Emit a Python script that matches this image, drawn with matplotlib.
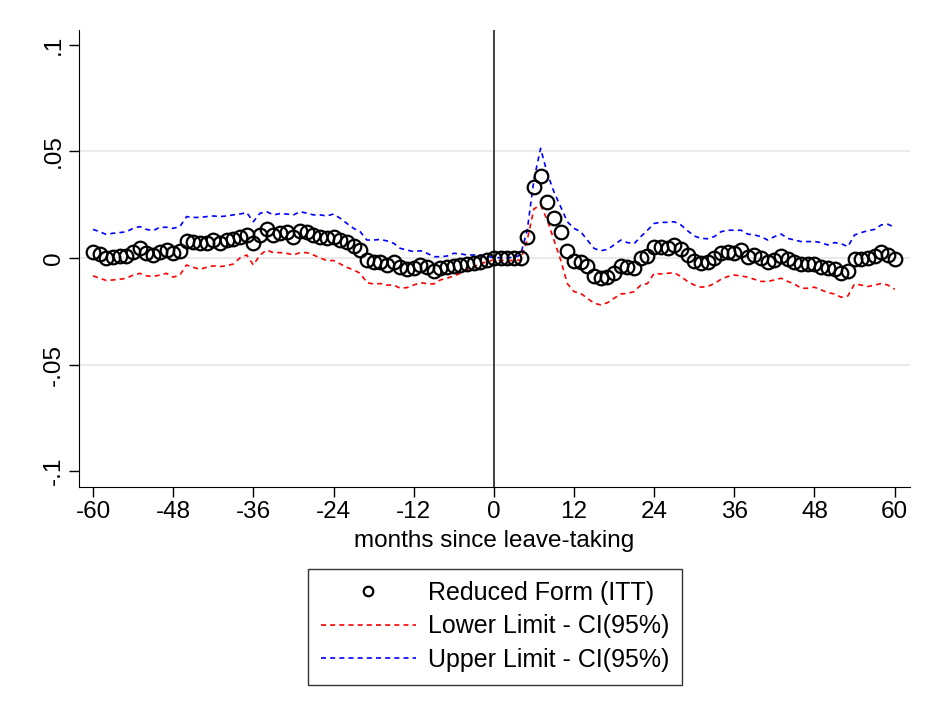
import numpy as np
import matplotlib
matplotlib.use("Agg")
import matplotlib.pyplot as plt

plt.rcParams['font.family'] = ['Liberation Sans', 'DejaVu Sans']
plt.rcParams['axes.unicode_minus'] = False

# months since leave-taking
months = list(range(-60, 61))

# reduced form (ITT) point estimates
itt = [
    0.0027, 0.0019, 0.0000, 0.0003, 0.0009, 0.0009, 0.0030, 0.0045, 0.0025, 0.0014,
    0.0030, 0.0037, 0.0022, 0.0034, 0.0081, 0.0077, 0.0069, 0.0072, 0.0084, 0.0072,
    0.0084, 0.0087, 0.0100, 0.0108, 0.0069, 0.0108, 0.0136, 0.0108, 0.0116, 0.0120,
    0.0100, 0.0128, 0.0123, 0.0108, 0.0100, 0.0092, 0.0100, 0.0084, 0.0077, 0.0056,
    0.0037, -0.0009, -0.0017, -0.0017, -0.0033, -0.0017, -0.0044, -0.0053, -0.0048, -0.0033,
    -0.0044, -0.0061, -0.0048, -0.0044, -0.0037, -0.0033, -0.0028, -0.0022, -0.0017, -0.0009,
    0.0000,
    -0.0002, 0.0001, 0.0000, -0.0002, 0.0100, 0.0334, 0.0384, 0.0264, 0.0189, 0.0122,
    0.0034, -0.0014, -0.0017, -0.0040, -0.0084, -0.0095, -0.0090, -0.0072, -0.0036, -0.0044,
    -0.0048, 0.0000, 0.0009, 0.0050, 0.0050, 0.0048, 0.0061, 0.0040, 0.0014, -0.0014,
    -0.0025, -0.0017, 0.0000, 0.0022, 0.0030, 0.0025, 0.0037, 0.0006, 0.0014, 0.0000,
    -0.0017, -0.0009, 0.0009, -0.0006, -0.0017, -0.0028, -0.0028, -0.0028, -0.0044, -0.0048,
    -0.0053, -0.0069, -0.0060, -0.0005, -0.0005, 0.0000, 0.0010, 0.0028, 0.0015, -0.0005,
]

# upper limit of 95% CI
upper = [
    0.0134, 0.0123, 0.0110, 0.0116, 0.0119, 0.0123, 0.0139, 0.0147, 0.0134, 0.0128,
    0.0144, 0.0144, 0.0139, 0.0147, 0.0194, 0.0190, 0.0190, 0.0194, 0.0197, 0.0194,
    0.0197, 0.0202, 0.0206, 0.0213, 0.0170, 0.0210, 0.0217, 0.0202, 0.0208, 0.0206,
    0.0202, 0.0217, 0.0210, 0.0202, 0.0202, 0.0197, 0.0206, 0.0186, 0.0162, 0.0139,
    0.0123, 0.0084, 0.0084, 0.0087, 0.0080, 0.0069, 0.0045, 0.0037, 0.0030, 0.0034,
    0.0022, 0.0006, 0.0006, 0.0009, 0.0022, 0.0019, 0.0014, 0.0014, 0.0014, 0.0009,
    0.0000,
    0.0002, 0.0002, 0.0002, 0.0014, 0.0130, 0.0366, 0.0514, 0.0397, 0.0310, 0.0240,
    0.0170, 0.0139, 0.0123, 0.0084, 0.0045, 0.0034, 0.0040, 0.0061, 0.0084, 0.0072,
    0.0067, 0.0100, 0.0130, 0.0162, 0.0167, 0.0167, 0.0170, 0.0155, 0.0128, 0.0103,
    0.0092, 0.0090, 0.0100, 0.0123, 0.0130, 0.0130, 0.0130, 0.0112, 0.0108, 0.0100,
    0.0084, 0.0100, 0.0112, 0.0092, 0.0084, 0.0077, 0.0077, 0.0077, 0.0072, 0.0061,
    0.0072, 0.0067, 0.0053, 0.0108, 0.0119, 0.0128, 0.0134, 0.0155, 0.0158, 0.0144,
]

# lower limit of 95% CI
lower = [
    -0.0084, -0.0095, -0.0106, -0.0103, -0.0100, -0.0095, -0.0080, -0.0072, -0.0084, -0.0087,
    -0.0080, -0.0072, -0.0090, -0.0080, -0.0033, -0.0044, -0.0053, -0.0044, -0.0037, -0.0040,
    -0.0037, -0.0028, 0.0000, 0.0014, -0.0033, 0.0014, 0.0037, 0.0025, 0.0025, 0.0022,
    0.0014, 0.0025, 0.0025, 0.0014, 0.0000, -0.0012, -0.0012, -0.0028, -0.0044, -0.0056,
    -0.0072, -0.0116, -0.0122, -0.0120, -0.0127, -0.0127, -0.0142, -0.0139, -0.0127, -0.0116,
    -0.0120, -0.0122, -0.0103, -0.0095, -0.0084, -0.0072, -0.0056, -0.0040, -0.0028, -0.0017,
    -0.0009,
    -0.0012, -0.0012, -0.0012, -0.0010, 0.0084, 0.0230, 0.0248, 0.0178, 0.0084, -0.0009,
    -0.0120, -0.0158, -0.0166, -0.0189, -0.0212, -0.0220, -0.0210, -0.0189, -0.0169, -0.0166,
    -0.0158, -0.0127, -0.0120, -0.0072, -0.0075, -0.0072, -0.0069, -0.0087, -0.0110, -0.0127,
    -0.0137, -0.0134, -0.0120, -0.0100, -0.0087, -0.0080, -0.0084, -0.0090, -0.0100, -0.0110,
    -0.0110, -0.0103, -0.0095, -0.0110, -0.0122, -0.0142, -0.0142, -0.0137, -0.0150, -0.0162,
    -0.0169, -0.0184, -0.0178, -0.0122, -0.0127, -0.0134, -0.0127, -0.0120, -0.0127, -0.0147,
]

xticks = list(range(-60, 61, 12))
yticks = [-0.1, -0.05, 0, 0.05, 0.1]
ytick_labels = ['-.1', '-.05', '0', '.05', '.1']

fs = 17.5

fig = plt.figure(figsize=(9.35, 7.17), dpi=100)
ax = fig.add_axes([79 / 935, 1 - 487 / 717, (910 - 79) / 935, (487 - 30) / 717])

# light gridlines at inner y ticks only (Stata style)
for yv in yticks[1:-1]:
    ax.axhline(yv, color='#e6e6e6', lw=1.2, zorder=0)
ax.axvline(0, color='#333333', lw=1.3, zorder=1)

ax.plot(months, itt, linestyle='none', marker='o', markersize=9.8,
        markerfacecolor='none', markeredgecolor='black', markeredgewidth=1.6,
        label='Reduced Form (ITT)', zorder=3)
ax.plot(months, lower, color='red', lw=1.2, dashes=(3, 2.5),
        label='Lower Limit - CI(95%)', zorder=2)
ax.plot(months, upper, color='blue', lw=1.2, dashes=(3, 2.5),
        label='Upper Limit - CI(95%)', zorder=2)

ax.set_xlim(-62.1, 62.3)
ax.set_ylim(-0.1074, 0.1069)
ax.set_xticks(xticks)
ax.set_yticks(yticks)
ax.set_yticklabels(ytick_labels, rotation=90, va='center')
ax.tick_params(axis='both', labelsize=fs, length=7, width=1, direction='out', pad=3)
ax.spines['top'].set_visible(False)
ax.spines['right'].set_visible(False)
ax.set_xlabel('months since leave-taking', fontsize=fs, labelpad=5)

handles, labels = ax.get_legend_handles_labels()
leg = fig.legend(handles, labels, loc='upper center',
                 bbox_to_anchor=(495 / 935, 1 - 556 / 717),
                 fontsize=18, frameon=True, fancybox=False, edgecolor='black',
                 handlelength=3.8, handletextpad=0.5, borderpad=0.5,
                 labelspacing=0.38, numpoints=1, markerscale=0.7)
leg.get_frame().set_linewidth(1.0)

fig.savefig('out.png', dpi=100)
